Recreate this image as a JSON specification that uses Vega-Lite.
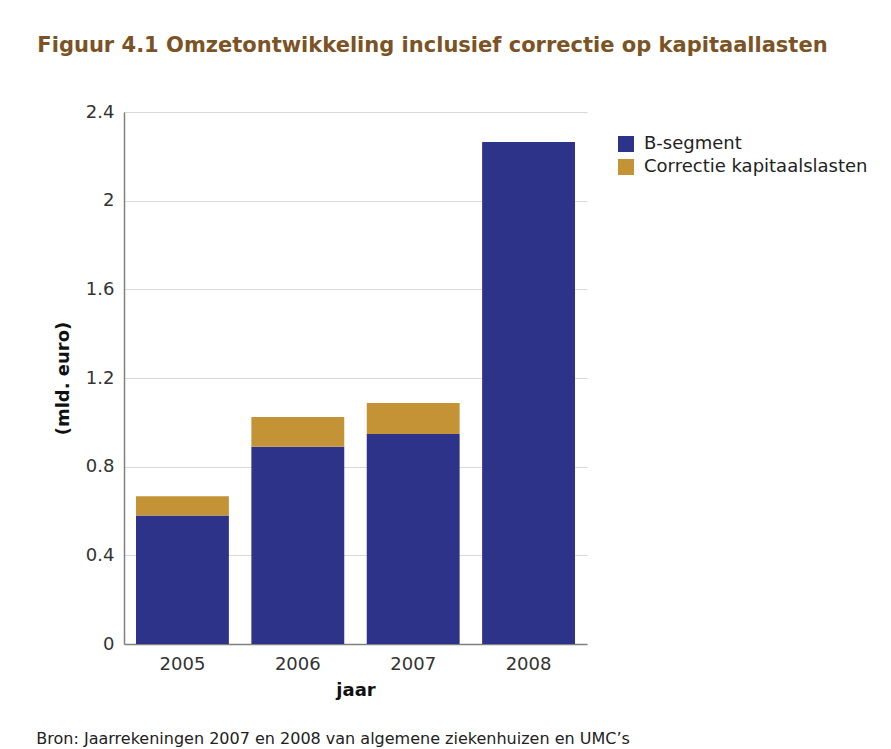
{
  "$schema": "https://vega.github.io/schema/vega-lite/v6.json",
  "background": "white",
  "padding": {"left": 36, "top": 35, "right": 10, "bottom": 5},
  "title": {
    "text": "Bron: Jaarrekeningen 2007 en 2008 van algemene ziekenhuizen en UMC’s",
    "orient": "bottom",
    "anchor": "start",
    "font": "DejaVu Sans",
    "fontSize": 16,
    "fontWeight": "normal",
    "color": "#222222",
    "offset": 32,
    "dx": -1
  },
  "vconcat": [
    {
      "width": 463,
      "height": 532,
      "title": {
        "text": "Figuur 4.1 Omzetontwikkeling inclusief correctie op kapitaallasten",
        "anchor": "start",
        "font": "DejaVu Sans",
        "fontSize": 21,
        "fontWeight": "bold",
        "color": "#7B5325",
        "offset": 47,
        "dx": -17
      },
      "data": {
        "values": [
          {"jaar": "2005", "serie": "B-segment", "waarde": 0.58},
          {"jaar": "2005", "serie": "Correctie kapitaalslasten", "waarde": 0.087},
          {"jaar": "2006", "serie": "B-segment", "waarde": 0.89},
          {"jaar": "2006", "serie": "Correctie kapitaalslasten", "waarde": 0.134},
          {"jaar": "2007", "serie": "B-segment", "waarde": 0.947},
          {"jaar": "2007", "serie": "Correctie kapitaalslasten", "waarde": 0.14},
          {"jaar": "2008", "serie": "B-segment", "waarde": 2.265},
          {"jaar": "2008", "serie": "Correctie kapitaalslasten", "waarde": 0}
        ]
      },
      "mark": {"type": "bar"},
      "encoding": {
        "x": {
          "field": "jaar",
          "type": "nominal",
          "scale": {"paddingInner": 0.195, "paddingOuter": 0.104},
          "axis": {
            "title": "jaar",
            "labelAngle": 0,
            "ticks": false,
            "labelPadding": 11,
            "titlePadding": 8
          }
        },
        "y": {
          "field": "waarde",
          "type": "quantitative",
          "stack": "zero",
          "scale": {"domain": [0, 2.4], "nice": false},
          "axis": {
            "title": "(mld. euro)",
            "values": [0, 0.4, 0.8, 1.2, 1.6, 2, 2.4],
            "format": "~g",
            "ticks": false,
            "labelPadding": 10,
            "titlePadding": 13
          }
        },
        "color": {
          "field": "serie",
          "type": "nominal",
          "scale": {
            "domain": ["B-segment", "Correctie kapitaalslasten"],
            "range": ["#2E338A", "#C39336"]
          },
          "legend": {
            "title": null,
            "orient": "none",
            "legendX": 493,
            "legendY": 23,
            "symbolType": "square",
            "symbolSize": 256,
            "symbolStrokeWidth": 0,
            "symbolOpacity": 1,
            "labelFontSize": 18,
            "labelFont": "DejaVu Sans",
            "labelColor": "#222222",
            "labelOffset": 9,
            "labelLimit": 0,
            "rowPadding": 5
          }
        },
        "order": {"field": "serie", "sort": "ascending"}
      }
    }
  ],
  "config": {
    "view": {"stroke": null},
    "axis": {
      "labelFont": "DejaVu Sans",
      "labelFontSize": 18,
      "labelColor": "#333333",
      "titleFont": "DejaVu Sans",
      "titleFontSize": 18,
      "titleFontWeight": "bold",
      "titleColor": "#111111",
      "domainColor": "#808080",
      "domainWidth": 1.5,
      "gridColor": "#d9d9d9",
      "gridWidth": 1
    },
    "axisX": {"grid": false},
    "axisY": {"grid": true}
  }
}
